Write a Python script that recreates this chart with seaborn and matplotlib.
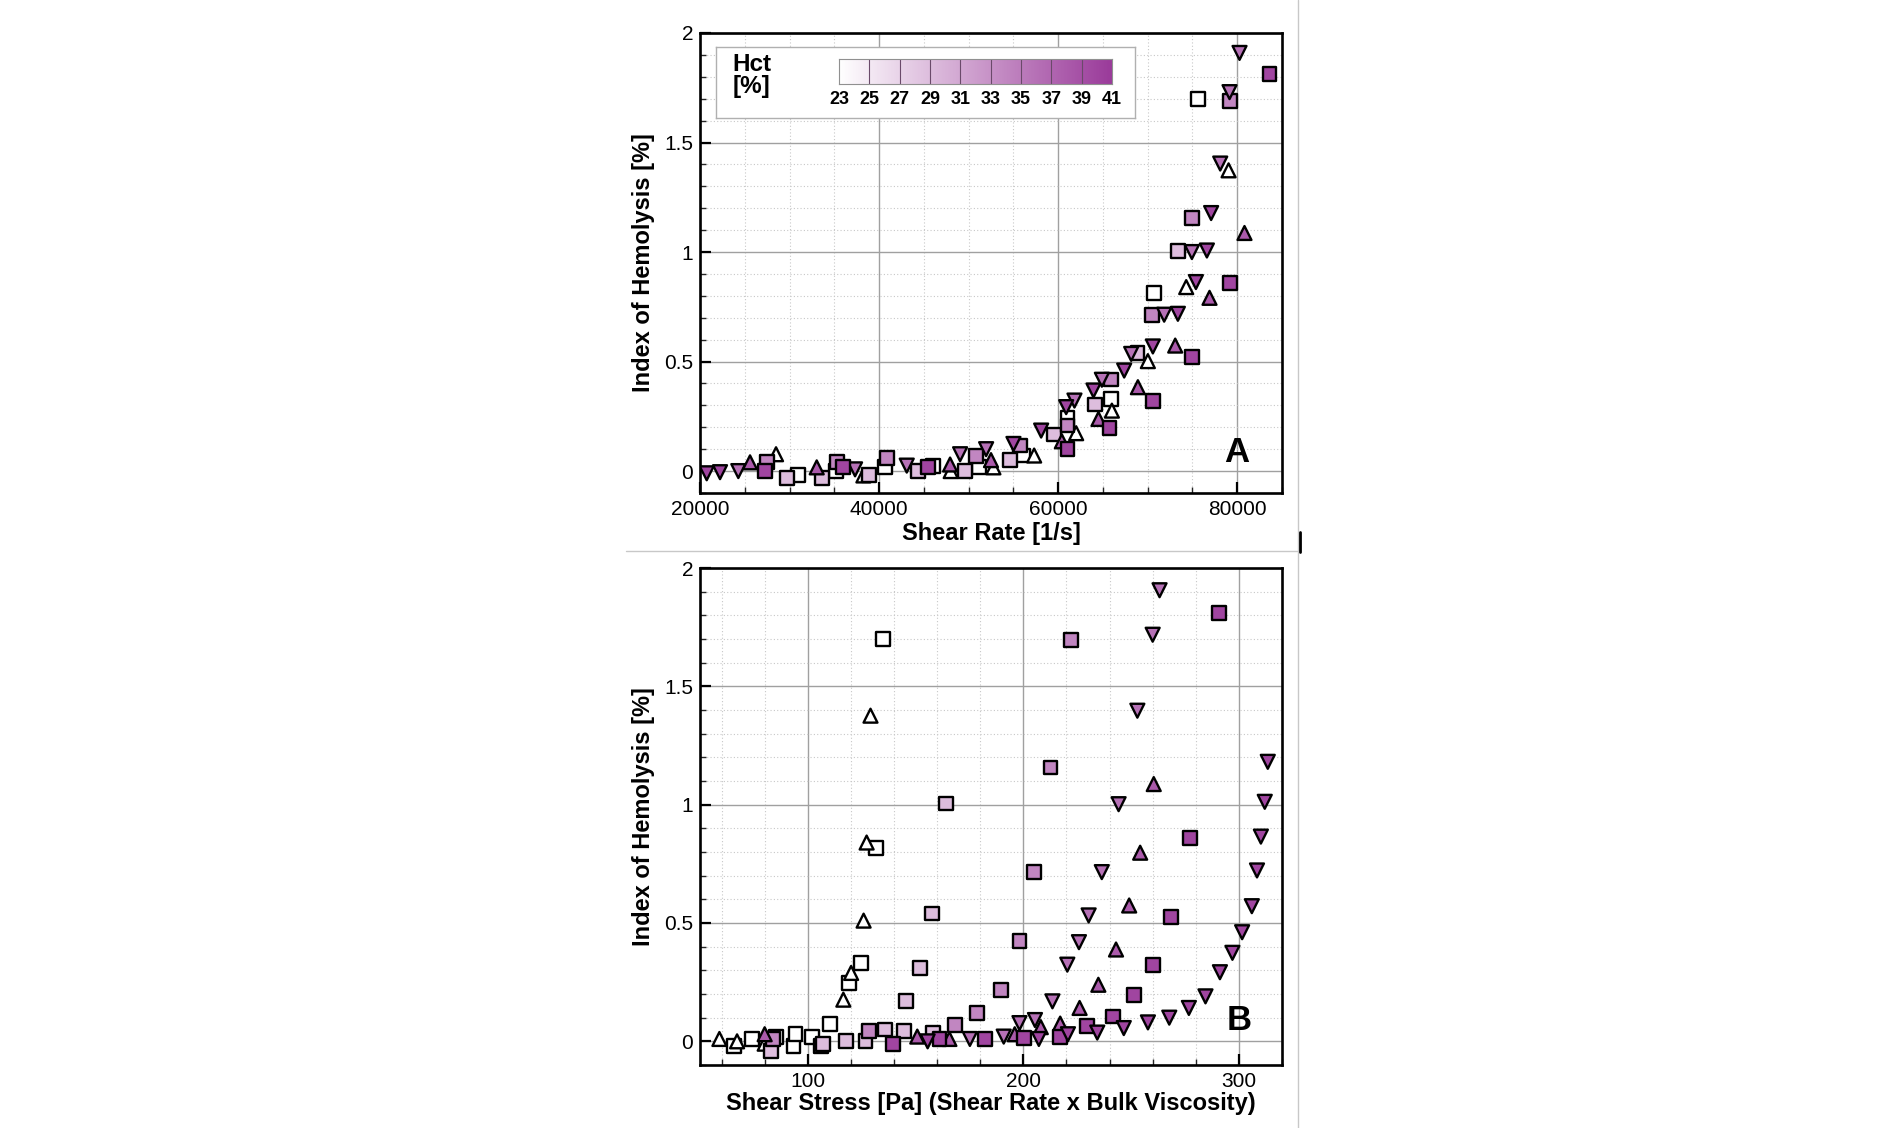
import numpy as np
import pandas as pd
import matplotlib
matplotlib.use("Agg")
import matplotlib.pyplot as plt
import seaborn as sns
from matplotlib.colors import LinearSegmentedColormap, Normalize
from matplotlib.ticker import MultipleLocator, FormatStrFormatter
from matplotlib.lines import Line2D

# ---------------- data ----------------
series_markers = ["s", "^", "s", "s", "v", "^", "s", "v"]
series_hct = [23, 23, 29, 34, 36, 38, 40, 40]

# Panel A: shear rate [1/s] vs index of hemolysis [%]
rateA_1 = [30983, 35158, 40670, 46065, 51200, 56052, 61040, 65922, 70726, 75609]
ihA_1 = [-0.017, 0.0, 0.017, 0.025, 0.02, 0.071, 0.243, 0.33, 0.812, 1.697]
rateA_2 = [28492, 38250, 48000, 52770, 57318, 62011, 66000, 70018, 74302, 79034]
ihA_2 = [0.077, -0.02, 0.0, 0.017, 0.071, 0.173, 0.276, 0.502, 0.84, 1.373]
rateA_3 = [29687, 33594, 38920, 44390, 49600, 54637, 59553, 64134, 68859, 73371]
ihA_3 = [-0.03, -0.03, -0.017, 0.0, 0.0, 0.051, 0.167, 0.304, 0.538, 1.004]
rateA_4 = [27520, 35270, 40860, 50840, 55754, 61040, 65888, 70465, 74935, 79218]
ihA_4 = [0.04, 0.043, 0.06, 0.07, 0.117, 0.208, 0.418, 0.714, 1.155, 1.69]
rateA_5 = [24279, 37318, 43090, 49050, 51955, 61821, 64883, 68156, 71840, 74935, 78100, 79140, 80257]
ihA_5 = [0.0, 0.008, 0.025, 0.077, 0.1, 0.322, 0.417, 0.535, 0.714, 1.0, 1.404, 1.73, 1.909]
rateA_6 = [25587, 33035, 47930, 52500, 60413, 64503, 68905, 73073, 76905, 80810]
ihA_6 = [0.04, 0.017, 0.03, 0.05, 0.136, 0.238, 0.383, 0.573, 0.791, 1.087]
rateA_7 = [27263, 36000, 45500, 61040, 65732, 70577, 74935, 79218, 83609]
ihA_7 = [0.0, 0.02, 0.02, 0.101, 0.197, 0.322, 0.52, 0.858, 1.812]
rateA_8 = [20749, 22235, 55008, 58101, 60894, 63944, 67374, 70577, 73371, 75385, 76611, 77084]
ihA_8 = [-0.01, -0.005, 0.124, 0.185, 0.292, 0.368, 0.459, 0.569, 0.718, 0.863, 1.007, 1.178]

# Panel B: shear stress [Pa] vs index of hemolysis [%]
stressB_1 = [65.7, 74, 85.2, 93.4, 94.3, 101.9, 106, 110.5, 119.2, 124.5, 131.7, 134.9]
ihB_1 = [-0.02, 0.01, 0.02, -0.02, 0.03, 0.02, -0.02, 0.074, 0.247, 0.331, 0.816, 1.70]
stressB_2 = [59, 67.2, 80, 116.5, 120.1, 125.9, 127.3, 129.1]
ihB_2 = [0.01, 0.0, -0.01, 0.176, 0.289, 0.51, 0.84, 1.376]
stressB_3 = [83, 106.9, 117.8, 126.8, 135.8, 144.5, 145.4, 152.1, 157.7, 157.9, 164.2]
ihB_3 = [-0.04, -0.01, 0.0, 0.0, 0.05, 0.045, 0.169, 0.31, 0.54, 0.035, 1.005]
stressB_4 = [84, 128.6, 168.4, 178.7, 189.5, 198.2, 205, 212.6, 222]
ihB_4 = [0.01, 0.045, 0.07, 0.12, 0.218, 0.423, 0.715, 1.157, 1.694]
stressB_5 = [175.2, 190.9, 198.2, 205.4, 213.5, 220.4, 225.8, 230.3, 236.4, 244.2, 252.9, 260, 263.2]
ihB_5 = [0.01, 0.02, 0.077, 0.09, 0.169, 0.324, 0.419, 0.532, 0.715, 1.002, 1.397, 1.718, 1.906]
stressB_6 = [80, 150.8, 165.7, 196, 208.1, 217.1, 226.1, 234.8, 243, 249.1, 254.2, 260.5]
ihB_6 = [0.03, 0.02, 0.01, 0.03, 0.06, 0.075, 0.141, 0.239, 0.388, 0.574, 0.797, 1.087]
stressB_7 = [139.4, 161.1, 182.2, 200.5, 217.1, 229.4, 241.5, 251.5, 260.1, 268.3, 277.3, 290.7]
ihB_7 = [-0.01, 0.01, 0.01, 0.015, 0.02, 0.066, 0.105, 0.197, 0.324, 0.525, 0.861, 1.81]
stressB_8 = [155.6, 207.2, 220.7, 234.3, 246.6, 257.8, 267.7, 276.8, 284.5, 291.2, 297, 301.5,
             306, 308.4, 310.2, 312, 313.4]
ihB_8 = [0.0, 0.01, 0.03, 0.037, 0.056, 0.08, 0.1, 0.141, 0.19, 0.292, 0.374, 0.461,
         0.571, 0.722, 0.865, 1.012, 1.181]

hct_ticks = [23, 25, 27, 29, 31, 33, 35, 37, 39, 41]

panelA = [(rateA_1, ihA_1), (rateA_2, ihA_2), (rateA_3, ihA_3), (rateA_4, ihA_4),
          (rateA_5, ihA_5), (rateA_6, ihA_6), (rateA_7, ihA_7), (rateA_8, ihA_8)]
panelB = [(stressB_1, ihB_1), (stressB_2, ihB_2), (stressB_3, ihB_3), (stressB_4, ihB_4),
          (stressB_5, ihB_5), (stressB_6, ihB_6), (stressB_7, ihB_7), (stressB_8, ihB_8)]


def build(panel):
    rows = []
    for i, (xs, ys) in enumerate(panel):
        for x, y in zip(xs, ys):
            rows.append({"x": x, "y": y, "hct": series_hct[i], "marker": series_markers[i]})
    return pd.DataFrame(rows)


dfA = build(panelA)
dfB = build(panelB)

# ---------------- style ----------------
sns.set_theme(style="white")
plt.rcParams["font.family"] = ["Liberation Sans", "DejaVu Sans"]
plt.rcParams["text.color"] = "black"
plt.rcParams["axes.labelcolor"] = "black"

cmap = LinearSegmentedColormap.from_list("hct", ["#ffffff", "#9a3a9a"])

W, H = 1900, 1128
fig = plt.figure(figsize=(W / 100, H / 100), dpi=100)
fig.patch.set_facecolor("white")


def fax(l, t, r, b):
    return [l / W, (H - b) / H, (r - l) / W, (b - t) / H]


axA = fig.add_axes(fax(700, 33, 1282, 493))
axB = fig.add_axes(fax(700, 568, 1282, 1065))

marker_map = {"s": "s", "^": "^", "v": "v"}

for ax, df in ((axA, dfA), (axB, dfB)):
    sns.scatterplot(data=df, x="x", y="y", hue="hct", palette=cmap, hue_norm=(23, 41),
                    style="marker", markers=marker_map, s=100, edgecolor="black",
                    linewidth=1.7, legend=False, ax=ax, zorder=3)

axA.set_xlim(20000, 85000)
axA.xaxis.set_major_locator(MultipleLocator(20000))
axA.xaxis.set_minor_locator(MultipleLocator(5000))
axB.set_xlim(50, 320)
axB.xaxis.set_major_locator(MultipleLocator(100))
axB.xaxis.set_minor_locator(MultipleLocator(20))

for ax in (axA, axB):
    ax.set_ylim(-0.1, 2)
    ax.yaxis.set_major_locator(MultipleLocator(0.5))
    ax.yaxis.set_minor_locator(MultipleLocator(0.1))
    ax.yaxis.set_major_formatter(FormatStrFormatter("%g"))
    ax.xaxis.set_major_formatter(FormatStrFormatter("%d"))
    ax.set_axisbelow(True)
    ax.grid(which="major", color="#a0a0a0", linewidth=1.0, linestyle="-")
    ax.grid(which="minor", color="#c8c8c8", linewidth=0.8, linestyle=(0, (1, 2)))
    ax.tick_params(which="major", direction="in", length=8, width=1.6, labelsize=15,
                   bottom=True, left=True, top=False, right=False, pad=5,
                   colors="black", labelcolor="black")
    ax.tick_params(which="minor", direction="in", length=4, width=1.0,
                   bottom=True, left=True, top=False, right=False)
    for sp in ax.spines.values():
        sp.set_linewidth(1.9)
        sp.set_color("black")
    ax.set_ylabel("Index of Hemolysis [%]", fontsize=17, fontweight="bold", color="black")
    ax.yaxis.set_label_coords(-0.077, 0.5)

axA.set_xlabel("Shear Rate [1/s]", fontsize=17, fontweight="bold", color="black")
axA.xaxis.set_label_coords(0.5, -0.062)
axB.set_xlabel("Shear Stress [Pa] (Shear Rate x Bulk Viscosity)", fontsize=17,
               fontweight="bold", color="black")
axB.xaxis.set_label_coords(0.5, -0.055)

panel_font = ["Liberation Sans Narrow", "Liberation Sans", "DejaVu Sans"]
axA.text(0.923, 0.089, "A", transform=axA.transAxes, ha="center", va="center",
         fontsize=25, fontweight="bold", family=panel_font, color="black", zorder=5)
axB.text(0.926, 0.089, "B", transform=axB.transAxes, ha="center", va="center",
         fontsize=25, fontweight="bold", family=panel_font, color="black", zorder=5)

# ---------------- colour legend box ----------------
box = fig.add_axes(fax(716, 47, 1135, 118))
box.set_facecolor("white")
box.set_xticks([])
box.set_yticks([])
for sp in box.spines.values():
    sp.set_color("#b0b0b0")
    sp.set_linewidth(1.0)
box.text(0.039, 0.60, "Hct\n[%]", transform=box.transAxes, ha="left", va="center",
         fontsize=17.5, fontweight="bold", linespacing=0.95, color="black")

cax = fig.add_axes(fax(839, 59, 1112, 84))
grad = np.linspace(23, 41, 512)[None, :]
cax.imshow(grad, cmap=cmap, norm=Normalize(23, 41), aspect="auto",
           extent=(hct_ticks[0], hct_ticks[-1], 0, 1))
for t in hct_ticks[1:-1]:
    cax.axvline(t, color="#6a4a6a", linewidth=0.8)
cax.set_xlim(hct_ticks[0], hct_ticks[-1])
cax.set_yticks([])
cax.set_xticks(hct_ticks)
cax.set_xticklabels([str(t) for t in hct_ticks], fontsize=13, fontweight="bold", color="black")
cax.tick_params(axis="x", length=0, pad=5)
for sp in cax.spines.values():
    sp.set_color("#909090")
    sp.set_linewidth(0.8)

# ---------------- page separators ----------------
fig.add_artist(Line2D([626 / W, 1297 / W], [1 - 551 / H, 1 - 551 / H],
                      transform=fig.transFigure, color="#c8c8c8", linewidth=1.0))
fig.add_artist(Line2D([1298 / W, 1298 / W], [0, 1], transform=fig.transFigure,
                      color="#c8c8c8", linewidth=1.0))
fig.add_artist(Line2D([1300 / W, 1300 / W], [1 - 532 / H, 1 - 552 / H],
                      transform=fig.transFigure, color="black", linewidth=2.0))

fig.savefig("out.png", dpi=100, facecolor="white")
